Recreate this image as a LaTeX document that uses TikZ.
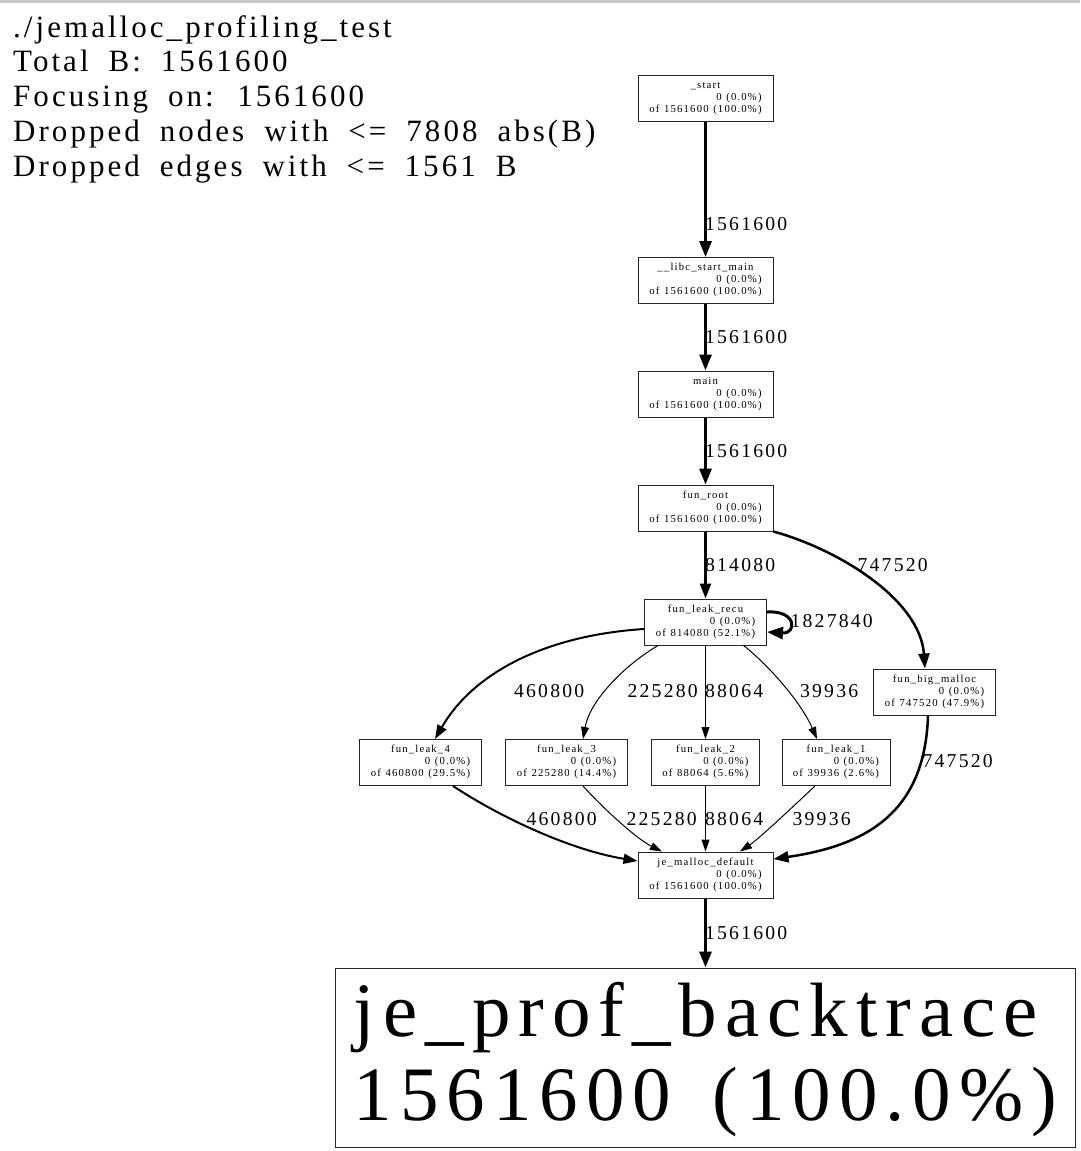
\documentclass[tikz,border=0pt]{standalone}
\usepackage{fontspec}
\setmainfont{Liberation Serif}[LetterSpace=11, WordSpace=1.2]
\newfontfamily\headfont{Liberation Serif}[LetterSpace=9.8, WordSpace=1.85]
\newfontfamily\bigfont{Liberation Serif}[LetterSpace=10.4, WordSpace=1.5]
\usepackage{tikz}
\usetikzlibrary{arrows.meta}

\newcommand{\fnbox}[3]{\begin{tabular}{@{}r@{}}\multicolumn{1}{@{}c@{}}{#1}\\#2\\#3\end{tabular}}

\begin{document}
\begin{tikzpicture}[x=1pt, y=-1pt,
                    >={Triangle[length=12pt,width=8pt]},
                    fn/.style={draw=black!85, line width=1pt, inner sep=0pt, minimum height=46pt,
                               font=\fontsize{10.7}{12}\selectfont},
                    fnwide/.style={fn, minimum width=135pt},
                    fnmid/.style={fn, minimum width=122pt},
                    fnnarrow/.style={fn, minimum width=108pt},
                    elabel/.style={anchor=base west, inner sep=0pt, font=\fontsize{19.7}{22}\selectfont},
                    lightedge/.style={->, line width=1pt},
                    leakedge/.style={->, line width=2pt, >={Triangle[length=14pt,width=10pt]}},
                    midedge/.style={->, line width=2.5pt, >={Triangle[length=15pt,width=11pt]}},
                    heavyedge/.style={->, line width=3pt, >={Triangle[length=16pt,width=12pt]}}]
\useasboundingbox (0,0) rectangle (1080,1151);
\fill[black!22] (0,0) rectangle (1080,2.5);
% header
\node[anchor=base west, inner sep=0pt, font=\headfont\fontsize{31}{34.9}\selectfont] (title) at (13,37)
  {\begin{tabular}[t]{@{}l@{}}./jemalloc\_profiling\_test\\Total B: 1561600\\Focusing on: 1561600\\
   Dropped nodes with <= 7808 abs(B)\\Dropped edges with <= 1561 B\end{tabular}};
% call graph
\node[fnwide] (start) at (705.5,98) {\fnbox{\_start}{0 (0.0\%)}{of 1561600 (100.0\%)}};
\node[fnwide] (libc) at (705.5,280.5) {\fnbox{\_\_libc\_start\_main}{0 (0.0\%)}{of 1561600 (100.0\%)}};
\node[fnwide] (main) at (705.5,394) {\fnbox{main}{0 (0.0\%)}{of 1561600 (100.0\%)}};
\node[fnwide] (root) at (705.5,508) {\fnbox{fun\_root}{0 (0.0\%)}{of 1561600 (100.0\%)}};
\node[fnmid] (recu) at (705.5,622) {\fnbox{fun\_leak\_recu}{0 (0.0\%)}{of 814080 (52.1\%)}};
\node[fnmid] (bigmalloc) at (934.5,692) {\fnbox{fun\_big\_malloc}{0 (0.0\%)}{of 747520 (47.9\%)}};
\node[fnmid] (leakfour) at (420.5,762.5) {\fnbox{fun\_leak\_4}{0 (0.0\%)}{of 460800 (29.5\%)}};
\node[fnmid] (leakthree) at (566.5,762.5) {\fnbox{fun\_leak\_3}{0 (0.0\%)}{of 225280 (14.4\%)}};
\node[fnnarrow] (leaktwo) at (705.5,762.5) {\fnbox{fun\_leak\_2}{0 (0.0\%)}{of 88064 (5.6\%)}};
\node[fnnarrow] (leakone) at (836,762.5) {\fnbox{fun\_leak\_1}{0 (0.0\%)}{of 39936 (2.6\%)}};
\node[fnwide] (jemalloc) at (705.5,875) {\fnbox{je\_malloc\_default}{0 (0.0\%)}{of 1561600 (100.0\%)}};
\node[draw=black!85, line width=1pt, anchor=base, inner sep=5.5pt, minimum width=740pt,
      text height=62.5pt, text depth=105.5pt, font=\bigfont\fontsize{77}{84}\selectfont] (backtrace) at (705.5,1036)
  {\begin{tabular}[t]{@{}l@{}}je\_prof\_backtrace\\1561600 (100.0\%)\end{tabular}};
% edges
\draw[heavyedge] (start) -- (libc);
\draw[heavyedge] (libc) -- (main);
\draw[heavyedge] (main) -- (root);
\draw[midedge] (root) -- (recu);
\draw[midedge] (root.south east) .. controls (840,550) and (920,600) .. ([xshift=-9.5pt]bigmalloc.north);
\draw[heavyedge] ([yshift=10pt]recu.east) .. controls (797,610) and (797,634) .. ([yshift=-10pt]recu.east);
\draw[leakedge] ([yshift=-7pt]recu.west) .. controls (550,635) and (475,670) .. ([xshift=14.5pt]leakfour.north);
\draw[lightedge] ([xshift=-47.5pt]recu.south) .. controls (625,665) and (590,700) .. ([xshift=16.5pt]leakthree.north);
\draw[lightedge] (recu) -- (leaktwo);
\draw[lightedge] ([xshift=38pt]recu.south) .. controls (765,662) and (800,700) .. ([xshift=-19pt]leakone.north);
\draw[leakedge] ([xshift=32.5pt]leakfour.south) .. controls (500,817) and (570,850) .. ([yshift=14pt]jemalloc.west);
\draw[lightedge] ([xshift=16.5pt]leakthree.south) .. controls (600,805) and (635,838) .. ([xshift=-43.5pt]jemalloc.north);
\draw[lightedge] (leaktwo) -- (jemalloc);
\draw[lightedge] ([xshift=-21pt]leakone.south) .. controls (800,800) and (760,838) .. ([xshift=34.5pt]jemalloc.north);
\draw[midedge] ([xshift=-6.5pt]bigmalloc.south) .. controls (925,810) and (870,845) .. ([yshift=16pt]jemalloc.east);
\draw[heavyedge] (jemalloc) -- (backtrace.north);
% edge labels
\node[elabel] (lstart) at (705,230) {1561600};
\node[elabel] (llibc) at (705,343) {1561600};
\node[elabel] (lmain) at (705,457) {1561600};
\node[elabel] (lrecu) at (705,571) {814080};
\node[elabel] (lbig) at (857.5,571) {747520};
\node[elabel] (lloop) at (790.5,627.5) {1827840};
\node[elabel] (lfour) at (514,697.5) {460800};
\node[elabel] (lthree) at (627.5,697.5) {225280};
\node[elabel] (ltwo) at (705,697.5) {88064};
\node[elabel] (lone) at (800,697.5) {39936};
\node[elabel] (lbigje) at (922.5,767) {747520};
\node[elabel] (lfourje) at (526.5,825) {460800};
\node[elabel] (lthreeje) at (626.5,825) {225280};
\node[elabel] (ltwoje) at (705,825) {88064};
\node[elabel] (loneje) at (792.5,825) {39936};
\node[elabel] (lje) at (705,939) {1561600};
\end{tikzpicture}
\end{document}
